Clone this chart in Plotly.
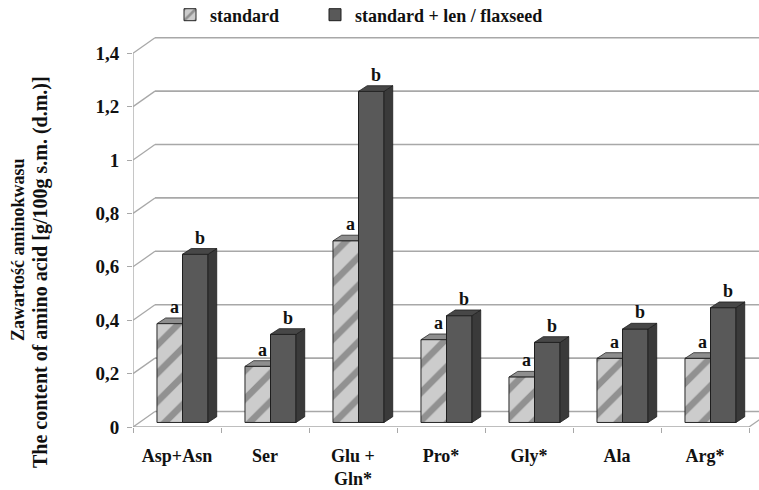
import plotly.graph_objects as go

categories = ["Asp+Asn", "Ser", "Glu +<br>Gln*", "Pro*", "Gly*", "Ala", "Arg*"]
standard = [0.37, 0.21, 0.68, 0.31, 0.17, 0.24, 0.24]
flaxseed = [0.63, 0.33, 1.24, 0.40, 0.30, 0.35, 0.43]
letters_standard = ["a"] * 7
letters_flaxseed = ["b"] * 7
y_ticks = [0, 0.2, 0.4, 0.6, 0.8, 1.0, 1.2, 1.4]
y_tick_labels = ["0", "0,2", "0,4", "0,6", "0,8", "1", "1,2", "1,4"]

# 3D geometry (data units)
BASE = 0.017          # bar plane lifted from front axis
XSHIFT = 0.0625       # bar plane shift right
BW = 0.29             # bar width
DDX, DDY = 0.099, 0.0213   # bar depth
WX, WY = 0.25, 0.058       # back wall offset
XMAX = -0.5 + 626 / 88
YMAX = 397 / 267

FONT = "Liberation Serif"
GRID = "#a8a8a8"
L, T, W, H = 133, 30, 626, 397    # plot area in pixels

fig = go.Figure()
fig.add_trace(go.Bar(
    x=categories, y=standard, base=BASE, name="standard", legend="legend",
    width=BW, offset=-BW + XSHIFT,
    marker=dict(color="#cdcdcd", line=dict(color="#262626", width=1),
                pattern=dict(shape="/", bgcolor="#cccccc", fgcolor="#555555",
                             size=20, solidity=0.33)),
))
fig.add_trace(go.Bar(
    x=categories, y=flaxseed, base=BASE, name="standard + len / flaxseed", legend="legend2",
    width=BW, offset=XSHIFT,
    marker=dict(color="#595959", line=dict(color="#1e1e1e", width=1)),
))

shapes = []
for v in y_ticks:
    shapes.append(dict(type="line", xref="x", yref="y", x0=-0.5, y0=v, x1=-0.5 + WX, y1=v + WY,
                       line=dict(color=GRID, width=1.3), layer="below"))
    shapes.append(dict(type="line", xref="x", yref="y", x0=-0.5 + WX, y0=v + WY, x1=XMAX + 1, y1=v + WY,
                       line=dict(color=GRID, width=1.6), layer="below"))
shapes.append(dict(type="line", xref="x", yref="y", x0=-0.5, y0=0, x1=-0.5, y1=1.4,
                   line=dict(color=GRID, width=1.3), layer="below"))
shapes.append(dict(type="line", xref="x", yref="y", x0=-0.5, y0=0, x1=6.5, y1=0,
                   line=dict(color=GRID, width=1.6), layer="below"))
shapes.append(dict(type="line", xref="x", yref="y", x0=6.5, y0=0, x1=6.5 + WX, y1=WY,
                   line=dict(color=GRID, width=1.3), layer="below"))

annotations = []
for i in range(len(categories)):
    s, f = standard[i], flaxseed[i]
    sx0 = i - BW + XSHIFT
    sx1 = i + XSHIFT
    fx0 = sx1
    fx1 = sx1 + BW
    ts = BASE + s
    tf = BASE + f
    shapes.append(dict(type="path", xref="x", yref="y", layer="between",
                       path=f"M {sx0},{ts} L {sx0+DDX},{ts+DDY} L {sx1+DDX},{ts+DDY} L {sx1},{ts} Z",
                       fillcolor="#8e8e8e", line=dict(color="#262626", width=0.8)))
    shapes.append(dict(type="path", xref="x", yref="y", layer="above",
                       path=f"M {fx1},{BASE} L {fx1+DDX},{BASE+DDY} L {fx1+DDX},{tf+DDY} L {fx1},{tf} Z",
                       fillcolor="#3a3a3a", line=dict(color="#1e1e1e", width=0.8)))
    shapes.append(dict(type="path", xref="x", yref="y", layer="above",
                       path=f"M {fx0},{tf} L {fx0+DDX},{tf+DDY} L {fx1+DDX},{tf+DDY} L {fx1},{tf} Z",
                       fillcolor="#474747", line=dict(color="#1e1e1e", width=0.8)))
    annotations.append(dict(x=(sx0 + sx1) / 2 + DDX / 2, y=ts + DDY, text=letters_standard[i],
                            xref="x", yref="y", showarrow=False, yanchor="bottom", yshift=-1,
                            font=dict(family=FONT, size=18, color="#111", weight="bold")))
    annotations.append(dict(x=(fx0 + fx1) / 2 + DDX / 2, y=tf + DDY, text=letters_flaxseed[i],
                            xref="x", yref="y", showarrow=False, yanchor="bottom", yshift=-1,
                            font=dict(family=FONT, size=18, color="#111", weight="bold")))

def px_x(p):
    return (p - L) / W

def px_y(p):
    return 1 - (p - T) / H

annotations.append(dict(x=px_x(18), y=px_y(250), xref="paper", yref="paper", text="Zawartość aminokwasu",
                        textangle=-90, showarrow=False, xanchor="center", yanchor="middle",
                        font=dict(family=FONT, size=18, color="#111", weight="bold")))
annotations.append(dict(x=px_x(40), y=px_y(272), xref="paper", yref="paper",
                        text="The content of amino acid [g/100g s.m. (d.m.)]",
                        textangle=-90, showarrow=False, xanchor="center", yanchor="middle",
                        font=dict(family=FONT, size=20, color="#111", weight="bold")))

legend_font = dict(family=FONT, size=18, color="#111", weight="bold")
fig.update_layout(
    width=759, height=490,
    margin=dict(l=L, r=759 - L - W, t=T, b=490 - T - H, autoexpand=False),
    paper_bgcolor="white", plot_bgcolor="white",
    barmode="overlay",
    font=dict(family=FONT, size=18, color="#111", weight="bold"),
    shapes=shapes, annotations=annotations,
    showlegend=True,
    legend=dict(orientation="h", x=px_x(170), y=px_y(15), xanchor="left", yanchor="middle",
                font=legend_font, bgcolor="rgba(0,0,0,0)"),
    legend2=dict(orientation="h", x=px_x(315), y=px_y(15), xanchor="left", yanchor="middle",
                 font=legend_font, bgcolor="rgba(0,0,0,0)"),
    xaxis=dict(type="category", range=[-0.5, XMAX], showgrid=False, showline=False, zeroline=False,
               automargin=False,
               ticks="outside", tickson="boundaries", ticklen=5, tickcolor=GRID, tickwidth=1.3,
               ticklabelstandoff=16, tickfont=dict(family=FONT, size=18, color="#111", weight="bold")),
    yaxis=dict(range=[0, YMAX], showgrid=False, showline=False, zeroline=False, automargin=False,
               tickmode="array", tickvals=y_ticks, ticktext=y_tick_labels,
               ticks="outside", ticklen=5, tickcolor=GRID, tickwidth=1.3, ticklabelstandoff=4,
               tickfont=dict(family=FONT, size=19, color="#111", weight="bold")),
)

fig.write_html("out.html", config={"displayModeBar": False},
               post_script="document.body.style.margin='0';")
